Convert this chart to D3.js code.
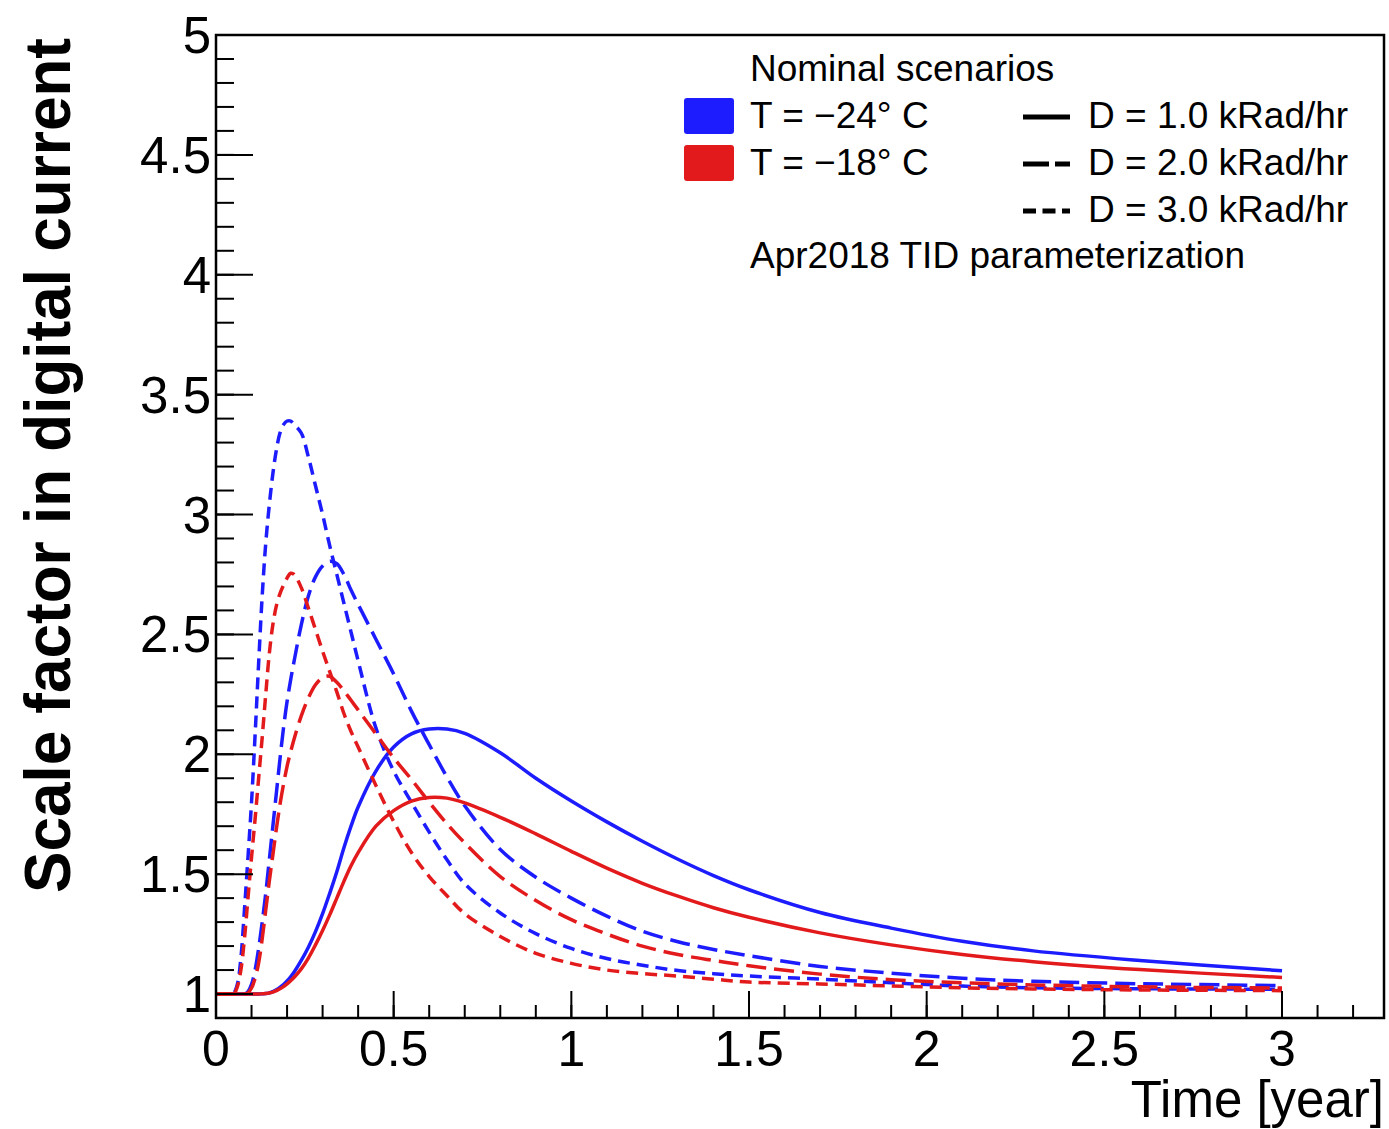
<!DOCTYPE html>
<meta charset="utf-8">
<title>Scale factor in digital current</title>
<body>
<script src="https://cdn.jsdelivr.net/npm/d3@7"></script>
<style>
html, body {
    margin: 0;
    background: #fff;
}
svg {
    display: block;
    font-family: "Liberation Sans", Arial, sans-serif;
}
</style>
<script>
// time grid (years) shared by all six curves
var years = [0, 0.04, 0.05, 0.06, 0.07, 0.08, 0.09, 0.10, 0.11, 0.12, 0.13, 0.14, 0.15, 0.16, 0.17, 0.18, 0.19, 0.20, 0.21, 0.22,
    0.24, 0.26, 0.28, 0.30, 0.32, 0.34, 0.36, 0.38, 0.40, 0.45, 0.50, 0.55, 0.60, 0.65, 0.70,
    0.8, 0.9, 1.0, 1.1, 1.2, 1.3, 1.4, 1.5, 1.7, 1.9, 2.1, 2.3, 2.6, 3.0];

// T = -24 C
var blueD1 = [1, 1, 1, 1, 1, 1, 1, 1, 1, 1, 1.001, 1.002, 1.005, 1.01, 1.018, 1.028, 1.04, 1.055, 1.072, 1.092,
    1.14, 1.195, 1.26, 1.335, 1.42, 1.51, 1.61, 1.70, 1.78, 1.93, 2.03, 2.085, 2.105, 2.105, 2.087,
    2.006, 1.90, 1.805, 1.718, 1.637, 1.562, 1.494, 1.435, 1.34, 1.275, 1.22, 1.18, 1.14, 1.097];
var blueD2 = [1, 1, 1, 1, 1, 1, 1.01, 1.04, 1.10, 1.19, 1.30, 1.42, 1.56, 1.70, 1.84, 1.98, 2.11, 2.22, 2.31, 2.39,
    2.54, 2.66, 2.74, 2.785, 2.805, 2.795, 2.75, 2.685, 2.625, 2.48, 2.335, 2.18, 2.04, 1.905, 1.785,
    1.603, 1.487, 1.40, 1.325, 1.262, 1.218, 1.186, 1.16, 1.115, 1.087, 1.066, 1.053, 1.043, 1.035];
var blueD3 = [1, 1, 1.005, 1.04, 1.15, 1.35, 1.57, 1.80, 2.08, 2.38, 2.66, 2.88, 3.04, 3.17, 3.27, 3.34, 3.375, 3.39, 3.39, 3.375,
    3.34, 3.24, 3.12, 3.00, 2.87, 2.75, 2.63, 2.51, 2.39, 2.11, 1.93, 1.80, 1.675, 1.56, 1.46,
    1.338, 1.252, 1.19, 1.148, 1.12, 1.098, 1.085, 1.075, 1.062, 1.047, 1.033, 1.026, 1.022, 1.02];

// T = -18 C
var redD1 = [1, 1, 1, 1, 1, 1, 1, 1, 1, 1, 1.001, 1.002, 1.004, 1.008, 1.014, 1.022, 1.031, 1.042, 1.055, 1.07,
    1.105, 1.15, 1.205, 1.265, 1.33, 1.40, 1.47, 1.535, 1.59, 1.70, 1.765, 1.805, 1.82, 1.817, 1.797,
    1.737, 1.668, 1.595, 1.525, 1.462, 1.408, 1.36, 1.32, 1.255, 1.205, 1.165, 1.135, 1.102, 1.069];
var redD2 = [1, 1, 1, 1, 1, 1, 1.005, 1.025, 1.065, 1.13, 1.23, 1.35, 1.47, 1.58, 1.69, 1.79, 1.875, 1.95, 2.01, 2.065,
    2.16, 2.235, 2.29, 2.32, 2.325, 2.30, 2.265, 2.225, 2.185, 2.085, 1.985, 1.895, 1.80, 1.71, 1.63,
    1.49, 1.39, 1.31, 1.25, 1.20, 1.165, 1.14, 1.118, 1.083, 1.06, 1.047, 1.038, 1.03, 1.025];
var redD3 = [1, 1, 1, 1.03, 1.10, 1.23, 1.40, 1.57, 1.73, 1.90, 2.07, 2.25, 2.42, 2.54, 2.62, 2.67, 2.705, 2.735, 2.755, 2.75,
    2.695, 2.61, 2.52, 2.43, 2.345, 2.26, 2.17, 2.095, 2.03, 1.87, 1.72, 1.59, 1.49, 1.41, 1.335,
    1.24, 1.17, 1.128, 1.10, 1.085, 1.075, 1.062, 1.05, 1.042, 1.034, 1.026, 1.021, 1.017, 1.014];

var xTicks = [0, 0.5, 1, 1.5, 2, 2.5, 3],
    yTicks = [1, 1.5, 2, 2.5, 3, 3.5, 4, 4.5, 5];

var tempLabels = ["T = \u221224\u00b0 C", "T = \u221218\u00b0 C"],
    doseLabels = ["D = 1.0 kRad/hr", "D = 2.0 kRad/hr", "D = 3.0 kRad/hr"];

var blue = "#1c1cff",
    red = "#e31a1c",
    dashes = [null, "20,8", "12,7"],
    legendDashes = [null, "26,6", "13,6.5"];

var width = 1389,
    height = 1129,
    frameL = 216,
    frameT = 35,
    frameR = 1384,
    frameB = 1018;

var x = d3.scaleLinear().domain([0, 3.287]).range([frameL, frameR]),
    y = d3.scaleLinear().domain([0.9, 5]).range([frameB, frameT]);

var svg = d3.select("body").append("svg")
    .attr("width", width)
    .attr("height", height);

var series = [
    {v: blueD1, color: blue, dash: 0},
    {v: blueD2, color: blue, dash: 1},
    {v: blueD3, color: blue, dash: 2},
    {v: redD1, color: red, dash: 0},
    {v: redD2, color: red, dash: 1},
    {v: redD3, color: red, dash: 2}
];

var line = d3.line()
    .x(function(d) { return x(d[0]); })
    .y(function(d) { return y(d[1]); })
    .curve(d3.curveCatmullRom.alpha(0.5));

svg.append("g").selectAll("path")
    .data(series)
    .enter().append("path")
    .attr("d", function(s) { return line(years.map(function(t, i) { return [t, s.v[i]]; })); })
    .attr("fill", "none")
    .attr("stroke", function(s) { return s.color; })
    .attr("stroke-width", 3.5)
    .attr("stroke-dasharray", function(s) { return dashes[s.dash]; });

// axes, ROOT style: ticks point inward
var xMinor = d3.range(0, 33).map(function(i) { return i / 10; }),
    yMinor = d3.range(10, 50).map(function(i) { return i / 10; });

var axes = svg.append("g")
    .attr("stroke", "#000")
    .attr("stroke-width", 2);

axes.selectAll("line.xminor")
    .data(xMinor)
    .enter().append("line")
    .attr("x1", x).attr("x2", x)
    .attr("y1", frameB).attr("y2", frameB - 13);

axes.selectAll("line.xmajor")
    .data(xTicks)
    .enter().append("line")
    .attr("x1", x).attr("x2", x)
    .attr("y1", frameB).attr("y2", frameB - 27);

axes.selectAll("line.yminor")
    .data(yMinor)
    .enter().append("line")
    .attr("y1", y).attr("y2", y)
    .attr("x1", frameL).attr("x2", frameL + 18);

axes.selectAll("line.ymajor")
    .data(yTicks)
    .enter().append("line")
    .attr("y1", y).attr("y2", y)
    .attr("x1", frameL).attr("x2", frameL + 37);

svg.append("rect")
    .attr("x", frameL)
    .attr("y", frameT)
    .attr("width", frameR - frameL)
    .attr("height", frameB - frameT)
    .attr("fill", "none")
    .attr("stroke", "#000")
    .attr("stroke-width", 2.5);

svg.append("g").selectAll("text")
    .data(xTicks)
    .enter().append("text")
    .attr("x", x)
    .attr("y", 1066)
    .attr("text-anchor", "middle")
    .attr("font-size", 50)
    .text(function(d) { return d; });

svg.append("g").selectAll("text")
    .data(yTicks)
    .enter().append("text")
    .attr("x", 211)
    .attr("y", function(d) { return y(d) + 18; })
    .attr("text-anchor", "end")
    .attr("font-size", 51)
    .text(function(d) { return d; });

svg.append("text")
    .attr("x", 1384)
    .attr("y", 1117)
    .attr("text-anchor", "end")
    .attr("font-size", 51)
    .text("Time [year]");

svg.append("text")
    .attr("transform", "translate(70,893) rotate(-90)")
    .attr("font-size", 64)
    .attr("font-weight", "bold")
    .attr("textLength", 855)
    .attr("lengthAdjust", "spacingAndGlyphs")
    .text("Scale factor in digital current");

// legend
var legend = svg.append("g")
    .attr("font-size", 37);

legend.append("text")
    .attr("x", 750).attr("y", 81)
    .text("Nominal scenarios");

legend.selectAll("rect")
    .data([blue, red])
    .enter().append("rect")
    .attr("x", 684)
    .attr("y", function(d, i) { return 98 + i * 47; })
    .attr("width", 50)
    .attr("height", 36)
    .attr("rx", 3)
    .attr("fill", function(d) { return d; });

legend.selectAll("text.temp")
    .data(tempLabels)
    .enter().append("text")
    .attr("class", "temp")
    .attr("x", 750)
    .attr("y", function(d, i) { return 128 + i * 47; })
    .text(function(d) { return d; });

legend.selectAll("line")
    .data(doseLabels)
    .enter().append("line")
    .attr("x1", 1023)
    .attr("x2", 1070)
    .attr("y1", function(d, i) { return 117 + i * 47; })
    .attr("y2", function(d, i) { return 117 + i * 47; })
    .attr("stroke", "#000")
    .attr("stroke-width", 5)
    .attr("stroke-dasharray", function(d, i) { return legendDashes[i]; });

legend.selectAll("text.dose")
    .data(doseLabels)
    .enter().append("text")
    .attr("class", "dose")
    .attr("x", 1088)
    .attr("y", function(d, i) { return 128 + i * 47; })
    .text(function(d) { return d; });

legend.append("text")
    .attr("x", 750).attr("y", 268)
    .text("Apr2018 TID parameterization");
</script>
